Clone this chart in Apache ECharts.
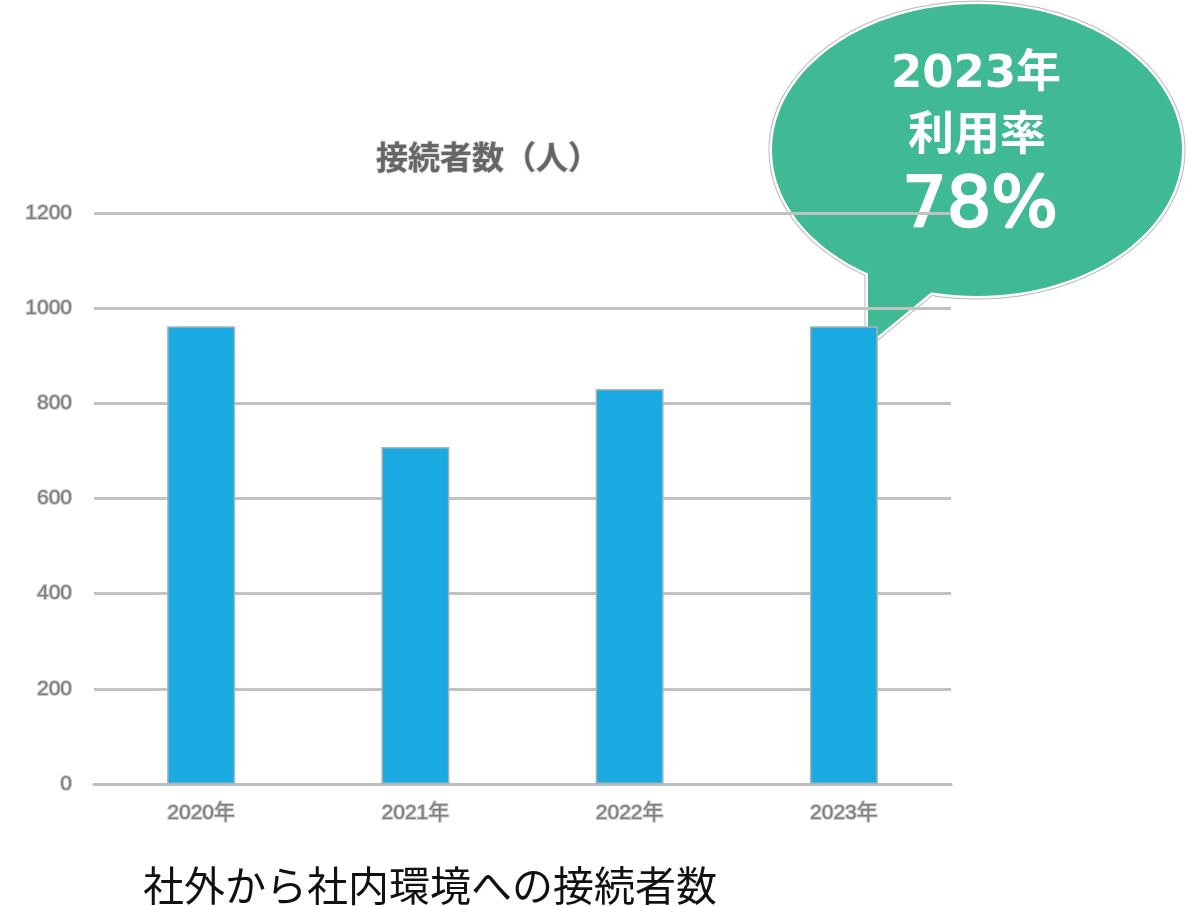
<!DOCTYPE html>
<html lang="ja">
<head>
<meta charset="utf-8">
<title>接続者数（人）</title>
<script src="https://cdn.jsdelivr.net/npm/echarts@6/dist/echarts.min.js"></script>
<style>
  html, body { margin: 0; padding: 0; background: #fff; }
  #chart { width: 1188px; height: 906px; }
</style>
</head>
<body>
<div id="chart"></div>
<script>
// 年ごとの接続者数（人）
const years = ['2020年', '2021年', '2022年', '2023年'];
const connections = [962, 708, 830, 962];
const yTicks = [0, 200, 400, 600, 800, 1000, 1200];

const chartTitle = '接続者数（人）';
const caption = '社外から社内環境への接続者数';
const bubbleLines = ['2023年', '利用率', '78%'];

const JP = '"Noto Sans CJK JP", "Noto Sans", sans-serif';
const NUM = '"Liberation Sans", Arial, ' + JP;
const BUBBLE_FONT = '"DejaVu Sans", "Noto Sans CJK JP", sans-serif';

const green = '#40b995';

const chart = echarts.init(document.getElementById('chart'), null, { renderer: 'canvas' });

// Speech bubble: outline strokes first, fills on top so the tail merges with the ellipse
const ell = { cx: 977, cy: 150, rx: 205, ry: 146 };
const tail = [[868, 255], [868, 330], [877, 337], [945, 281], [952, 255]];

function bubbleLayer(stroke, width, fill) {
  return [
    {
      type: 'ellipse', z: -5,
      shape: ell,
      style: fill ? { fill: fill, stroke: null } : { fill: null, stroke: stroke, lineWidth: width }
    },
    {
      type: 'polygon', z: -5,
      shape: { points: tail },
      style: fill ? { fill: fill, stroke: null } : { fill: null, stroke: stroke, lineWidth: width }
    }
  ];
}

const bubble = {
  type: 'group',
  z: -5,
  children: [].concat(
    bubbleLayer('#b8b8b8', 7),
    bubbleLayer('#ffffff', 5),
    bubbleLayer(null, 0, green),
    [
      {
        type: 'text', z: -4, x: 976, y: 75,
        style: {
          text: bubbleLines[0], fill: '#fff', font: 'bold 45px ' + BUBBLE_FONT,
          align: 'center', verticalAlign: 'middle'
        }
      },
      {
        type: 'text', z: -4, x: 977, y: 132,
        style: {
          text: bubbleLines[1], fill: '#fff', font: 'bold 46px ' + JP,
          align: 'center', verticalAlign: 'middle'
        }
      },
      {
        type: 'text', z: -4, x: 980, y: 208,
        style: {
          text: bubbleLines[2], fill: '#fff', font: '70px ' + BUBBLE_FONT,
          align: 'center', verticalAlign: 'middle',
          stroke: '#fff', lineWidth: 2.5
        }
      }
    ]
  )
};

const labelStyle = {
  fontSize: 21, fontFamily: NUM, color: '#7d7d7d',
  textBorderColor: 'rgba(195,195,195,0.85)', textBorderWidth: 2
};

const option = {
  backgroundColor: '#ffffff',
  animation: false,
  grid: { left: 94, right: 237, top: 213, bottom: 122, containLabel: false },
  xAxis: {
    type: 'category',
    data: years,
    axisLine: { show: true, lineStyle: { color: '#bdbdbd', width: 3 } },
    axisTick: { show: false },
    axisLabel: Object.assign({ margin: 19 }, labelStyle),
    z: 0
  },
  yAxis: {
    type: 'value',
    min: yTicks[0],
    max: yTicks[yTicks.length - 1],
    interval: yTicks[1] - yTicks[0],
    axisLine: { show: false },
    axisTick: { show: false },
    splitLine: { show: true, lineStyle: { color: '#c2c2c2', width: 3 } },
    axisLabel: Object.assign({ margin: 22, formatter: v => String(v) }, labelStyle),
    z: 0
  },
  series: [{
    type: 'bar',
    data: connections,
    barWidth: 68,
    z: 2,
    itemStyle: { color: '#1aaae2', borderColor: '#a9b3b8', borderWidth: 1.5 }
  }],
  graphic: {
    elements: [
      bubble,
      {
        type: 'text', x: 488, y: 157, z: 3,
        style: {
          text: chartTitle, fill: '#666', font: 'bold 32px ' + JP,
          align: 'center', verticalAlign: 'middle',
          stroke: 'rgba(205,205,205,0.9)', lineWidth: 1.5
        }
      },
      {
        type: 'text', x: 143, y: 885, z: 3,
        style: {
          text: caption, fill: '#111', font: '41px ' + JP,
          align: 'left', verticalAlign: 'middle'
        }
      }
    ]
  }
};

chart.setOption(option);
</script>
</body>
</html>
